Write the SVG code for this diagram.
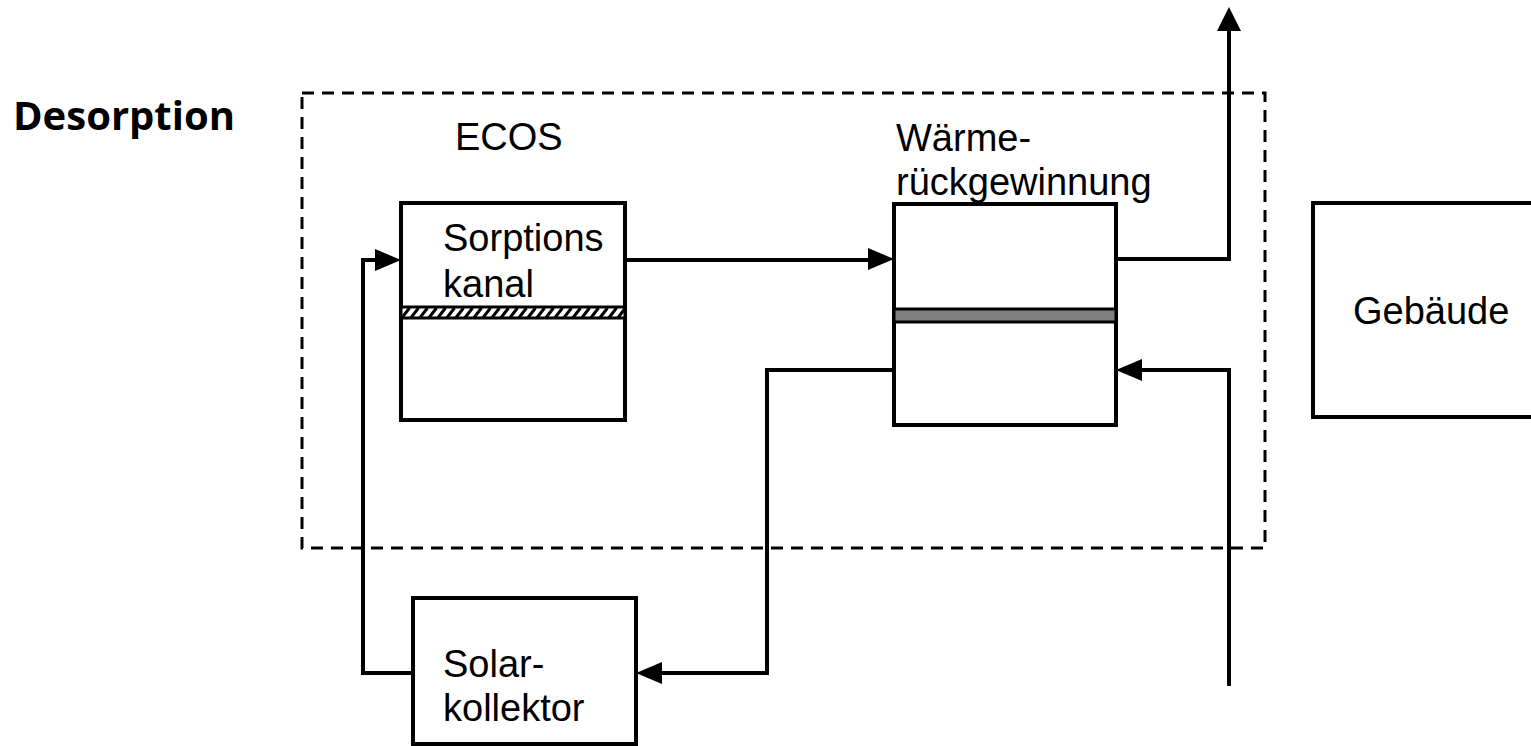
<svg xmlns="http://www.w3.org/2000/svg" width="1531" height="746" viewBox="0 0 1531 746">
<style>
.box{fill:#fff;stroke:#000;stroke-width:4}
.lbl{font-family:"Liberation Sans",Arial,sans-serif;font-size:38px;fill:#000}
.title{font-family:"Open Sans","Noto Sans",sans-serif;font-weight:700;font-size:40px;fill:#000}
.wire{fill:none;stroke:#000;stroke-width:4}
.head{fill:#000}
.dash{fill:none;stroke:#000;stroke-width:3;stroke-dasharray:12 8}
</style>
<defs>
<pattern id="hatch" patternUnits="userSpaceOnUse" width="9" height="11">
<rect width="9" height="11" fill="#fff"/>
<path d="M-4,11 L4.5,0 M5,11 L13.5,0" stroke="#000" stroke-width="3"/>
</pattern>
</defs>
<rect width="1531" height="746" fill="#fff"/>
<text class="title" x="13" y="130">Desorption</text>
<rect id="system-boundary" class="dash" x="302" y="93" width="963" height="455"/>
<g id="ecos">
<text class="lbl" x="455" y="150">ECOS</text>
</g>
<g id="sorptionskanal">
<rect class="box" x="401" y="203" width="224" height="217"/>
<rect x="401" y="307" width="224" height="11" fill="url(#hatch)" stroke="#000" stroke-width="3"/>
<text class="lbl" x="443" y="251">Sorptions</text>
<text class="lbl" x="443" y="297">kanal</text>
</g>
<g id="waermerueckgewinnung">
<rect class="box" x="894" y="204" width="222" height="221"/>
<rect x="894" y="309" width="222" height="13" fill="#808080" stroke="#000" stroke-width="3"/>
<text class="lbl" x="896" y="151">Wärme-</text>
<text class="lbl" x="896" y="195">rückgewinnung</text>
</g>
<g id="gebaeude">
<rect class="box" x="1313" y="203" width="240" height="214"/>
<text class="lbl" x="1353" y="324">Gebäude</text>
</g>
<g id="solarkollektor">
<rect class="box" x="413" y="598" width="223" height="146"/>
<text class="lbl" x="443" y="677">Solar-</text>
<text class="lbl" x="443" y="721">kollektor</text>
</g>
<g id="connectors">
<path class="wire" d="M413,673 H363 V260 H377"/>
<polygon class="head" points="401,260 375,249 375,271"/>
<path class="wire" d="M625,260 H870"/>
<polygon class="head" points="894,259 868,248 868,270"/>
<path class="wire" d="M1116,259 H1229 V29"/>
<polygon class="head" points="1229,7 1217,31 1241,31"/>
<path class="wire" d="M1229,686 V370 H1138"/>
<polygon class="head" points="1116,370 1142,359 1142,381"/>
<path class="wire" d="M894,370 H767 V673 H660"/>
<polygon class="head" points="636,673 662,662 662,684"/>
</g>
</svg>
